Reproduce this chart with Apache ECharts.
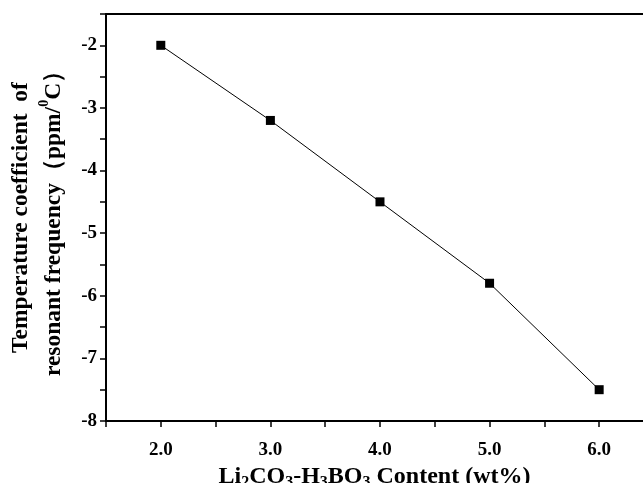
<!DOCTYPE html>
<html>
<head>
<meta charset="utf-8">
<script src="https://cdn.jsdelivr.net/npm/echarts@6/dist/echarts.min.js"></script>
<style>
    html, body { margin: 0; padding: 0; background: #fff; }
    #main { width: 643px; height: 483px; }
</style>
</head>
<body>
<div id="main"></div>
<script>
'use strict';

// Li2CO3-H3BO3 content (wt%) vs temperature coefficient of resonant frequency
var contents = [2.0, 3.0, 4.0, 5.0, 6.0];
var tauF = [-2.0, -3.2, -4.5, -5.8, -7.5];

var xRange = [1.5, 6.4];
var yRange = [-8, -1.5];

var font = 'Liberation Serif';

var myChart = echarts.init(document.getElementById('main'));

var points = contents.map(function (c, i) {
    return [c, tauF[i]];
});

function wholeOnly(fixed) {
    return function (v) {
        if (Math.abs(v - Math.round(v)) > 1e-6) {
            return '';
        }
        return fixed ? v.toFixed(1) : String(Math.round(v));
    };
}

var option = {
    animation: false,
    backgroundColor: '#fff',
    grid: {
        left: 106,
        right: 0,
        top: 14,
        bottom: 62,
        outerBoundsMode: 'none'
    },
    xAxis: [{
        type: 'value',
        min: xRange[0],
        max: xRange[1],
        interval: 0.5,
        splitLine: { show: false },
        axisLine: { lineStyle: { color: '#000', width: 2 } },
        axisTick: { inside: false, length: 6, lineStyle: { color: '#000', width: 1.5 } },
        axisLabel: {
            formatter: wholeOnly(true),
            color: '#000',
            fontFamily: font,
            fontWeight: 'bold',
            fontSize: 19,
            margin: 20,
            showMaxLabel: false
        },
        name: 'Li{sub|2}CO{sub|3}-H{sub|3}BO{sub|3} Content (wt%)',
        nameLocation: 'middle',
        nameGap: 37,
        nameTextStyle: {
            color: '#000',
            fontFamily: font,
            fontWeight: 'bold',
            fontSize: 24,
            rich: {
                sub: {
                    fontFamily: font,
                    fontWeight: 'bold',
                    fontSize: 16,
                    color: '#000',
                    verticalAlign: 'bottom',
                    padding: [12, 0, 0, 0]
                }
            }
        }
    }, {
        type: 'value',
        position: 'top',
        min: xRange[0],
        max: xRange[1],
        splitLine: { show: false },
        axisLine: { lineStyle: { color: '#000', width: 2 } },
        axisTick: { show: false },
        axisLabel: { show: false }
    }],
    yAxis: {
        type: 'value',
        min: yRange[0],
        max: yRange[1],
        interval: 0.5,
        splitLine: { show: false },
        axisLine: { lineStyle: { color: '#000', width: 2 } },
        axisTick: { inside: false, length: 6, lineStyle: { color: '#000', width: 1.5 } },
        axisLabel: {
            formatter: wholeOnly(false),
            color: '#000',
            fontFamily: font,
            fontWeight: 'bold',
            fontSize: 19,
            margin: 9
        },
        name: 'Temperature coefficient  of\nresonant frequency\uff08ppm/{sup|0}C\uff09',
        nameLocation: 'middle',
        nameRotate: 90,
        nameGap: 30,
        nameTextStyle: {
            color: '#000',
            fontFamily: font,
            fontWeight: 'bold',
            fontSize: 23.5,
            lineHeight: 33,
            rich: {
                sup: {
                    fontFamily: font,
                    fontWeight: 'bold',
                    fontSize: 14,
                    color: '#000',
                    verticalAlign: 'top',
                    padding: [0, 0, 10, 0]
                }
            }
        }
    },
    series: [{
        type: 'line',
        data: points,
        symbol: 'rect',
        symbolSize: 9,
        itemStyle: { color: '#000' },
        lineStyle: { color: '#000', width: 1 }
    }]
};

myChart.setOption(option);
</script>
</body>
</html>
